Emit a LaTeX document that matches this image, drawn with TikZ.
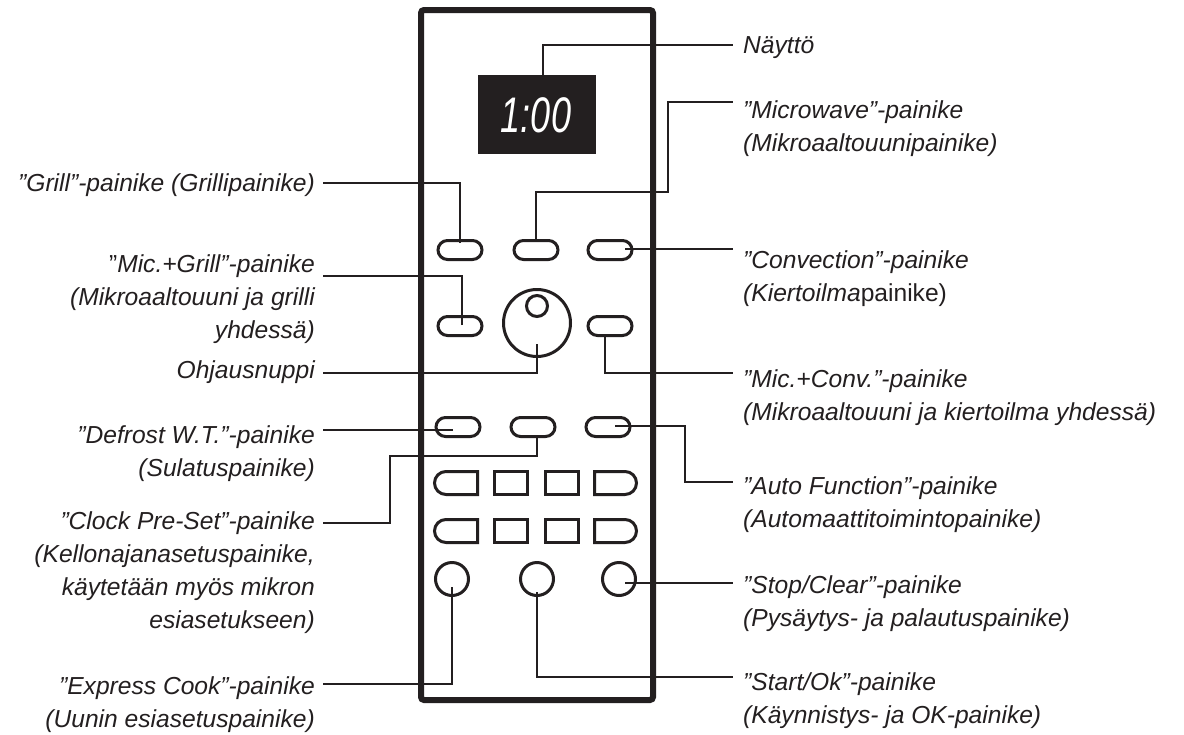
\documentclass[tikz,border=0pt]{standalone}
\usepackage{fontspec}
\setmainfont{Liberation Sans}
\usepackage{graphicx}
\usetikzlibrary{shapes.misc,calc}
\definecolor{ink}{HTML}{231F20}
\begin{document}
\begin{tikzpicture}[x=1pt,y=-1pt,
  leader/.style={draw=ink,line width=2.2pt},
  btn/.style={draw=ink,line width=3pt,rounded rectangle,minimum width=44pt,minimum height=19pt,inner sep=0pt},
  sqbtn/.style={draw=ink,line width=3pt,rectangle,minimum width=33pt,minimum height=23pt,inner sep=0pt},
  lbtn/.style={btn,rounded rectangle right arc=none,minimum width=43pt,minimum height=23pt},
  rbtn/.style={btn,rounded rectangle left arc=none,minimum width=42pt,minimum height=23pt},
  rnd/.style={draw=ink,line width=3pt,circle,minimum size=33pt,inner sep=0pt},
  lab/.style={font=\fontsize{24.6}{33}\selectfont\itshape,text=ink,inner sep=0pt},
  labR/.style={lab,align=left,anchor=base west},
  labL/.style={lab,align=right,anchor=base east},
]
\useasboundingbox (0,0) rectangle (1184,734);
\fill[white] (0,0) rectangle (1184,734);
% panel
\node[draw=ink,line width=6pt,rounded corners=3pt,minimum width=232pt,minimum height=690pt,inner sep=0pt] (panel) at (537,355) {};
% display
\node[fill=ink,minimum width=118pt,minimum height=79pt,inner sep=0pt] (disp) at (537,114.5) {};
\node[text=white,font=\fontsize{50}{50}\selectfont\itshape,inner sep=0pt] (digits) at (536,115) {\scalebox{0.72}[1]{1:00}};
% row 1
\node[btn] (bgrill) at (460,250) {};
\node[btn] (bmw) at (536,250) {};
\node[btn] (bconv) at (610,250) {};
% row 2
\node[btn] (bmg) at (460,326) {};
\node[draw=ink,line width=3pt,circle,minimum size=67pt,inner sep=0pt] (knob) at (537,323) {};
\node[draw=ink,line width=3pt,circle,minimum size=21pt,inner sep=0pt] (knobdot) at (537,306) {};
\node[btn] (bmc) at (610,326) {};
% row 3
\node[btn] (bdef) at (458,427) {};
\node[btn] (bclk) at (533,427) {};
\node[btn] (bauto) at (608,427) {};
% rows 4 and 5
\node[lbtn] (b41) at (456,483) {};
\node[sqbtn] (b42) at (511,483) {};
\node[sqbtn] (b43) at (562,483) {};
\node[rbtn] (b44) at (615.5,483) {};
\node[lbtn] (b51) at (456,531) {};
\node[sqbtn] (b52) at (511,531) {};
\node[sqbtn] (b53) at (562,531) {};
\node[rbtn] (b54) at (615.5,531) {};
% row 6
\node[rnd] (ce) at (452,579) {};
\node[rnd] (cs) at (537,579) {};
\node[rnd] (cc) at (619,579) {};
% leader end points
\coordinate (nE) at (733,45);
\coordinate (mwE) at (733,102);
\coordinate (cvE) at (733,249);
\coordinate (mcE) at (733,373);
\coordinate (afE) at (733,482);
\coordinate (scE) at (733,583);
\coordinate (soE) at (733,677);
\coordinate (gW) at (323,183);
\coordinate (mgW) at (323,276);
\coordinate (knW) at (323,373);
\coordinate (dfW) at (323,430);
\coordinate (clW) at (323,523);
\coordinate (ecW) at (323,684);
% leaders
\draw[leader] ($(disp.north)+(6,0)$) |- (nE);
\draw[leader] (bmw.north) |- (668,192) |- (mwE);
\draw[leader] ($(bgrill)+(0,-7)$) |- (gW);
\draw[leader] ($(bconv)+(15,-1)$) -- (cvE);
\draw[leader] ($(bmg)+(2,-1)$) |- (mgW);
\draw[leader] ($(knob)+(0,21)$) |- (knW);
\draw[leader] ($(bmc.south)+(-5,0)$) |- (mcE);
\draw[leader] ($(bdef)+(-5,3)$) -- (dfW);
\draw[leader] ($(bclk.south)+(4,0)$) |- (390,456) |- (clW);
\draw[leader] ($(bauto)+(7,-1)$) -| (685,482) -- (afE);
\draw[leader] ($(cc)+(6,4)$) -- (scE);
\draw[leader] ($(cs)+(0,13)$) |- (soE);
\draw[leader] ($(ce)+(0,8)$) |- (ecW);
% right labels (base anchor = baseline of last line)
\node[labR] (lN) at (743,53) {Näyttö};
\node[labR] (lMW) at (743,151) {”Microwave”-painike\\(Mikroaaltouunipainike)};
\node[labR] (lCV) at (743,301) {”Convection”-painike\\(Kiertoilma{\upshape painike)}};
\node[labR] (lMC) at (743,420) {”Mic.+Conv.”-painike\\(Mikroaaltouuni ja kiertoilma yhdessä)};
\node[labR] (lAF) at (743,527) {”Auto Function”-painike\\(Automaattitoimintopainike)};
\node[labR] (lSC) at (743,626) {”Stop/Clear”-painike\\(Pysäytys- ja palautuspainike)};
\node[labR] (lSO) at (743,723) {”Start/Ok”-painike\\(Käynnistys- ja OK-painike)};
% left labels
\node[labL] (lG) at (315,191) {”Grill”-painike (Grillipainike)};
\node[labL] (lMG) at (315,338) {{\upshape ”}Mic.+Grill”-painike\\(Mikroaaltouuni ja grilli\\yhdessä)};
\node[labL] (lKN) at (315,378) {Ohjausnuppi};
\node[labL] (lDF) at (315,476) {”Defrost W.T.”-painike\\(Sulatuspainike)};
\node[labL] (lCL) at (315,628) {”Clock Pre-Set”-painike\\(Kellonajanasetuspainike,\\käytetään myös mikron\\esiasetukseen)};
\node[labL] (lEC) at (315,727) {”Express Cook”-painike\\(Uunin esiasetuspainike)};
\end{tikzpicture}
\end{document}
